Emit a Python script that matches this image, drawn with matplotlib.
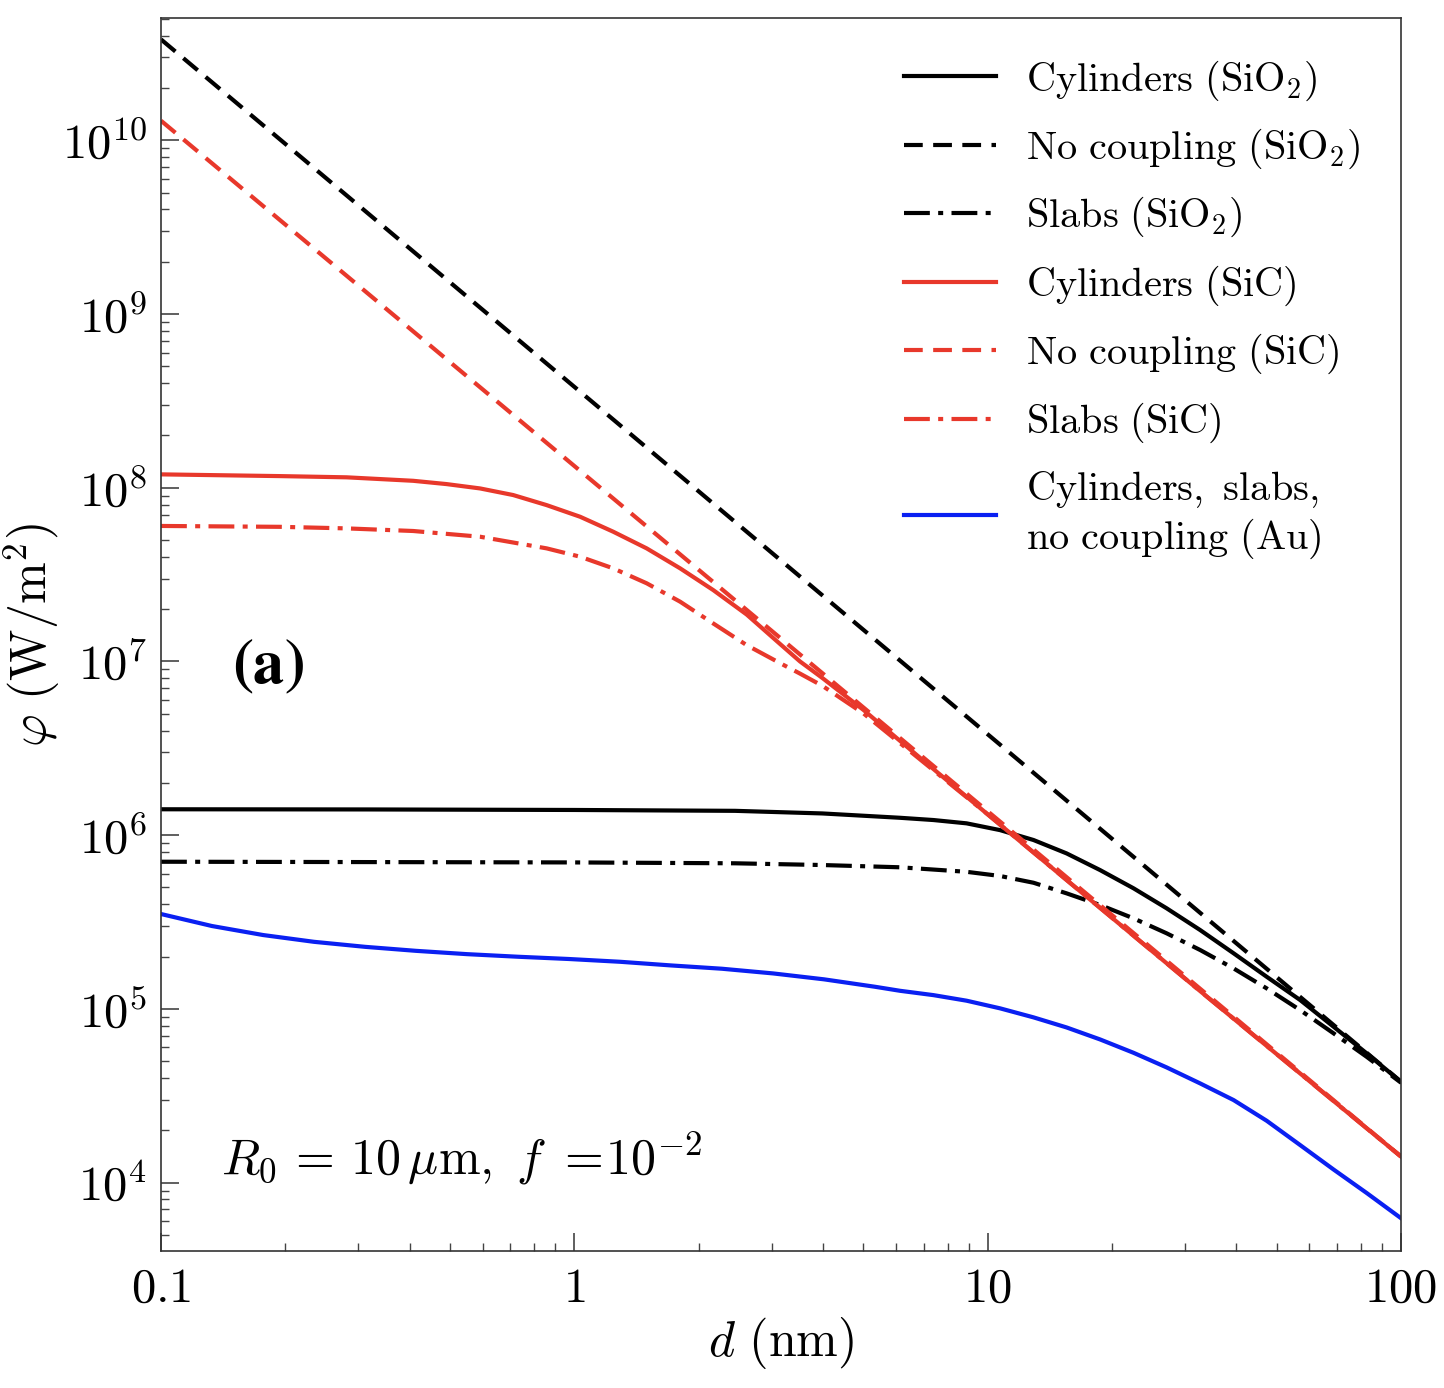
import numpy as np
import matplotlib
matplotlib.use("Agg")
import matplotlib.pyplot as plt
from matplotlib.ticker import FixedLocator, FuncFormatter, LogLocator, NullFormatter

plt.rcParams['mathtext.fontset'] = 'cm'
plt.rcParams['font.family'] = ['DejaVu Serif']

# values (log10 of d in nm, log10 of phi in W/m^2)
logd_cyl_sio2 = [-1.0, -0.5, 0.0, 0.389, 0.6, 0.788, 0.869, 0.949, 1.030, 1.111, 1.191, 1.272,
                 1.353, 1.433, 1.514, 1.595, 1.675, 1.756, 1.837, 1.917, 2.0]
logphi_cyl_sio2 = [6.149, 6.148, 6.145, 6.140, 6.125, 6.100, 6.087, 6.068, 6.029, 5.972, 5.895, 5.799,
                   5.694, 5.579, 5.454, 5.320, 5.185, 5.051, 4.897, 4.744, 4.580]

logd_nc_sio2 = [-1.0, 2.0]
logphi_nc_sio2 = [10.581, 4.581]

logd_slab_sio2 = [-1.0, -0.5, 0.0, 0.389, 0.6, 0.788, 0.949, 1.030, 1.111, 1.191, 1.272, 1.353,
                  1.433, 1.514, 1.595, 1.675, 1.756, 1.837, 1.917, 2.0]
logphi_slab_sio2 = [5.847, 5.845, 5.843, 5.838, 5.828, 5.815, 5.789, 5.765, 5.726, 5.665, 5.598, 5.521,
                    5.435, 5.339, 5.233, 5.118, 4.993, 4.859, 4.724, 4.575]

logd_cyl_sic = [-1.0, -0.712, -0.551, -0.390, -0.309, -0.228, -0.148, -0.067, 0.014, 0.094,
                0.175, 0.256, 0.336, 0.417, 0.498, 0.546, 0.60, 0.70, 0.85, 1.0, 1.5, 2.0]
logphi_cyl_sic = [8.077, 8.067, 8.060, 8.040, 8.021, 7.996, 7.958, 7.900, 7.833, 7.747,
                  7.651, 7.536, 7.411, 7.270, 7.100, 7.000, 6.905, 6.720, 6.418, 6.12, 5.13, 4.15]

logd_nc_sic = [-1.0, 2.0]
logphi_nc_sic = [10.113, 4.15]

logd_slab_sic = [-1.0, -0.712, -0.551, -0.390, -0.228, -0.067, 0.014, 0.094, 0.175, 0.256,
                 0.336, 0.417, 0.498, 0.546, 0.60, 0.70, 0.85, 1.0, 1.5, 2.0]
logphi_slab_sic = [7.780, 7.775, 7.766, 7.751, 7.718, 7.651, 7.603, 7.536, 7.450, 7.344,
                   7.219, 7.094, 6.990, 6.930, 6.860, 6.700, 6.410, 6.12, 5.13, 4.15]

logd_au = [-1.0, -0.877, -0.753, -0.630, -0.506, -0.383, -0.260, -0.136, -0.013, 0.111,
           0.234, 0.357, 0.481, 0.604, 0.728, 0.788, 0.869, 0.949, 1.030, 1.111,
           1.191, 1.272, 1.353, 1.433, 1.514, 1.595, 1.675, 1.756, 1.837, 1.917, 2.0]
logphi_au = [5.546, 5.477, 5.425, 5.386, 5.357, 5.334, 5.315, 5.300, 5.287, 5.271,
             5.250, 5.231, 5.204, 5.170, 5.127, 5.104, 5.079, 5.047, 5.003, 4.951,
             4.893, 4.824, 4.747, 4.663, 4.571, 4.475, 4.356, 4.216, 4.075, 3.940, 3.795]

x_ticks = [0.1, 1, 10, 100]
x_ticklabels = ['0.1', '1', '10', '100']

RED = '#e8382b'
BLUE = '#0a20f2'
LW = 3.0
DASH = (0, (4.5, 2.5))
DASHDOT = (0, (6.2, 2.0, 1.2, 2.0))

fig = plt.figure(figsize=(14.44, 13.88), dpi=100)
ax = fig.add_axes([0.1115, 0.0987, 0.8587, 0.8883])


def pw(a):
    return 10 ** np.asarray(a)


ax.plot(pw(logd_cyl_sio2), pw(logphi_cyl_sio2), color='k', lw=LW, ls='-',
        label=r'$\mathrm{Cylinders\ (SiO_2)}$')
ax.plot(pw(logd_nc_sio2), pw(logphi_nc_sio2), color='k', lw=LW, ls=DASH,
        label=r'$\mathrm{No\ coupling\ (SiO_2)}$')
ax.plot(pw(logd_slab_sio2), pw(logphi_slab_sio2), color='k', lw=LW, ls=DASHDOT,
        label=r'$\mathrm{Slabs\ (SiO_2)}$')
ax.plot(pw(logd_cyl_sic), pw(logphi_cyl_sic), color=RED, lw=LW, ls='-',
        label=r'$\mathrm{Cylinders\ (SiC)}$')
ax.plot(pw(logd_nc_sic), pw(logphi_nc_sic), color=RED, lw=LW, ls=DASH,
        label=r'$\mathrm{No\ coupling\ (SiC)}$')
ax.plot(pw(logd_slab_sic), pw(logphi_slab_sic), color=RED, lw=LW, ls=DASHDOT,
        label=r'$\mathrm{Slabs\ (SiC)}$')
ax.plot(pw(logd_au), pw(logphi_au), color=BLUE, lw=LW, ls='-',
        label=r'$\mathrm{Cylinders,\ slabs,}$' + '\n' + r'$\mathrm{no\ coupling\ (Au)}$')

ax.set_xscale('log')
ax.set_yscale('log')
ax.set_xlim(0.1, 100)
ax.set_ylim(10 ** 3.606, 10 ** 10.704)

ax.xaxis.set_major_locator(FixedLocator(x_ticks))
ax.xaxis.set_major_formatter(FuncFormatter(lambda v, p: '$%s$' % x_ticklabels[x_ticks.index(v)]
                                           if v in x_ticks else ''))
ax.xaxis.set_minor_locator(LogLocator(base=10, subs=np.arange(2, 10)))
ax.xaxis.set_minor_formatter(NullFormatter())
ax.yaxis.set_major_locator(LogLocator(base=10, numticks=20))
ax.yaxis.set_major_formatter(FuncFormatter(lambda v, p: r'$10^{%d}$' % round(np.log10(v))))
ax.yaxis.set_minor_locator(LogLocator(base=10, subs=np.arange(2, 10), numticks=20))
ax.yaxis.set_minor_formatter(NullFormatter())

ax.tick_params(which='both', direction='in', top=False, right=False, colors='#444444',
               labelcolor='k')
ax.tick_params(which='major', length=13, width=1.2, labelsize=35, pad=10)
ax.tick_params(which='minor', length=6, width=1.0)
for s in ax.spines.values():
    s.set_color('#333333')
    s.set_linewidth(1.2)

ax.set_xlabel(r'$d\ (\mathrm{nm})$', fontsize=36, labelpad=2)
ax.set_ylabel(r'$\varphi\ (\mathrm{W/m}^2)$', fontsize=36, labelpad=0)

ax.text(0.086, 0.475, r'$\mathbf{(a)}$', transform=ax.transAxes, fontsize=45,
        math_fontfamily='stix', ha='center', va='center')
ax.text(0.048, 0.075, r'$R_0\,=\,10\,\mu\mathrm{m},\ f\ =\!10^{-2}$', transform=ax.transAxes,
        fontsize=36, va='center')

ax.legend(loc='upper right', frameon=False, fontsize=29, handlelength=2.3,
          handletextpad=0.75, labelspacing=0.6, borderaxespad=0.6)

fig.savefig('out.png', dpi=100)
